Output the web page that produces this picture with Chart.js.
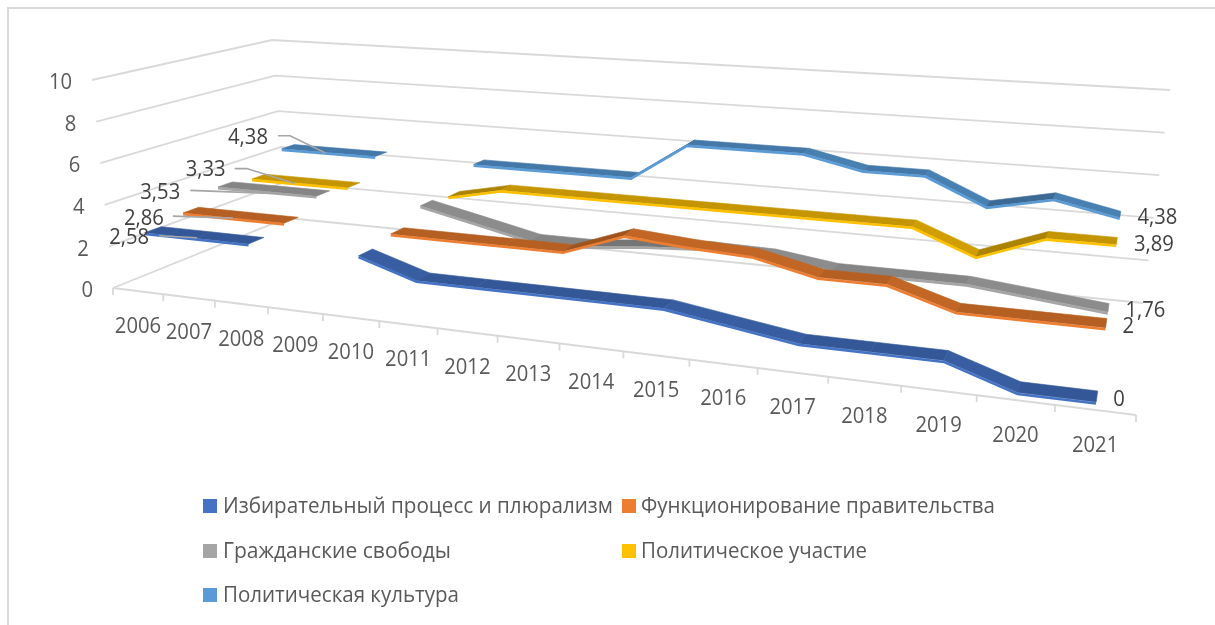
<!DOCTYPE html>
<html lang="ru"><head><meta charset="utf-8">
<script src="https://cdn.jsdelivr.net/npm/chart.js@4"></script>
<style>html,body{margin:0;padding:0;background:#fff}canvas{display:block}</style>
</head><body><canvas id="c" width="1215" height="625"></canvas>
<script>
const categories=['2006','2007','2008','2009','2010','2011','2012','2013','2014','2015','2016','2017','2018','2019','2020','2021'];
const electoral=[2.58,2.58,2.58,null,2.58,1.75,1.75,1.75,1.75,1.75,1.33,0.92,0.92,0.92,0,0];
const government=[2.86,2.86,2.86,null,2.86,2.86,2.86,2.86,3.86,3.64,3.5,2.86,2.86,2,2,2];
const civil=[3.53,3.53,3.53,null,3.53,2.94,2.35,2.35,2.62,2.79,2.73,2.35,2.35,2.35,2.06,1.76];
const participation=[3.33,3.33,3.33,null,3.33,3.89,3.89,3.89,3.89,3.89,3.89,3.89,3.89,2.78,3.89,3.89];
const culture=[4.38,4.38,4.38,null,4.38,4.38,4.38,4.38,6.25,6.25,6.25,5.63,5.63,4.38,5,4.38];
const seriesNames=['Избирательный процесс и плюрализм','Функционирование правительства','Гражданские свободы','Политическое участие','Политическая культура'];
const faceColors=['#4472C4','#ED7D31','#A5A5A5','#FFC000','#5B9BD5'];
const topColors=['#345897','#B55F22','#858585','#C49500','#4478A8'];

// perspective box: floor and ceiling corners of the 3-D plot
const floorQ=[[113,288],[1136,415],[1143,303],[287,218]];
const ceilQ=[[92,80],[1170,155],[1170,90],[272,40]];
function homog(p0,p1,p2,p3){
  const dx1=p1[0]-p2[0],dx2=p3[0]-p2[0],sx=p0[0]-p1[0]+p2[0]-p3[0];
  const dy1=p1[1]-p2[1],dy2=p3[1]-p2[1],sy=p0[1]-p1[1]+p2[1]-p3[1];
  const det=dx1*dy2-dx2*dy1,g=(sx*dy2-dx2*sy)/det,h=(dx1*sy-sx*dy1)/det;
  return (u,v)=>{const w=1+g*u+h*v;return [
    (p0[0]+u*(p1[0]-p0[0]+g*p1[0])+v*(p3[0]-p0[0]+h*p3[0]))/w,
    (p0[1]+u*(p1[1]-p0[1]+g*p1[1])+v*(p3[1]-p0[1]+h*p3[1]))/w];};
}
const Hf=homog(...floorQ),Hc=homog(...ceilQ);
const proj=(u,d,t)=>{const a=Hf(u,d),b=Hc(u,d);return [a[0]+(b[0]-a[0])*t,a[1]+(b[1]-a[1])*t];};
const RIBBON=0.042,FACE=0.006;
const depth=i=>(i+.5)/5;

function hexMix(a,b,t){const p=s=>[1,3,5].map(k=>parseInt(s.substr(k,2),16));const A=p(a),B=p(b);
  return 'rgb('+A.map((v,i)=>Math.round(v+(B[i]-v)*t)).join(',')+')';}

const LABEL_FONT='21.5px "Open Sans"';
const LEGEND_FONT='22px "Open Sans"';
// text is slightly condensed, like the reference's narrower face
function squeezed(c,txt,x,y,k){c.fillText(txt,x,y,c.measureText(txt).width*k);}
const SQ=0.94;
// label offsets relative to each series' first / last projected point
const firstLabelOffset=[[-24,8.5],[-47,8.5],[-65,8.5],[-53,-7],[-40,-8.5]];
const firstLeader=[[[6,6],[44,8]],[[-18,6],[42,8]],[[-35,6],[45,9]],[[-24,-8],[-12,-8],[36,7]],[[-10,-11],[2,-11],[37,6]]];
const lastLabelOffset=[[22,3],[22,4],[37,3.5],[37,4],[37,3.5]];

const persp={id:'persp',
  afterDatasetsUpdate(chart){
    const xs=chart.scales.x,ys=chart.scales.y;
    chart.data.datasets.forEach((ds,i)=>{
      chart.getDatasetMeta(i).data.forEach(el=>{
        const u=(el.x-xs.left)/xs.width;
        if(el.skip||!isFinite(el.y)){el.$q=null;return;}
        const t=(ys.bottom-el.y)/ys.height;
        el.$q={u,t,d:depth(i)};
        const p=proj(u,depth(i)-RIBBON,t-FACE);
        el.x=p[0];el.y=p[1];
      });
    });
  },
  beforeDatasetsDraw(chart){
    const c=chart.ctx,ys=chart.scales.y,xs=chart.scales.x;
    c.save();
    // outer frame
    c.strokeStyle='#D9D9D9';c.lineWidth=2;c.beginPath();c.moveTo(8,625);c.lineTo(8,8);c.lineTo(1215,8);c.stroke();
    // walls
    c.strokeStyle='#D9D9D9';c.lineWidth=1.8;c.lineJoin='miter';
    ys.ticks.forEach(tk=>{
      const t=tk.value/ys.max,a=proj(0,0,t),b=proj(0,1,t),d=proj(1,1,t);
      c.beginPath();c.moveTo(a[0],a[1]);c.lineTo(b[0],b[1]);c.lineTo(d[0],d[1]);c.stroke();
      c.fillStyle='#595959';c.font=LABEL_FONT;c.textAlign='right';c.textBaseline='middle';
      squeezed(c,String(tk.value),a[0]-20,a[1]+3,SQ);
    });
    // category axis
    const n=categories.length;
    const e0=proj(0,0,0),e1=proj(1,0,0);
    c.beginPath();c.moveTo(e0[0],e0[1]);c.lineTo(e1[0],e1[1]);c.stroke();
    for(let i=0;i<=n;i++){const p=proj(i/n,0,0);c.beginPath();c.moveTo(p[0],p[1]);c.lineTo(p[0],p[1]+7);c.stroke();}
    c.fillStyle='#595959';c.font=LABEL_FONT;c.textAlign='center';c.textBaseline='middle';
    xs.getLabels().forEach((lb,i)=>{const p=proj((i+.5)/n,0,0);squeezed(c,lb,p[0],p[1]+35.5,SQ);});
    c.restore();
  },
  beforeDatasetDraw(chart,args){
    const i=args.index,c=chart.ctx,els=chart.getDatasetMeta(i).data;
    c.save();
    for(let k=0;k<els.length-1;k++){
      const a=els[k].$q,b=els[k+1].$q;if(!a||!b)continue;
      const p1=proj(a.u,a.d-RIBBON,a.t),p2=proj(b.u,b.d-RIBBON,b.t),p3=proj(b.u,b.d+RIBBON,b.t),p4=proj(a.u,a.d+RIBBON,a.t);
      const dv=b.t-a.t;
      let col=topColors[i];
      if(dv<-0.001)col=hexMix(topColors[i],faceColors[i],.22);
      else if(dv>0.001)col=hexMix(topColors[i],'#000000',.12);
      c.fillStyle=col;c.strokeStyle=col;c.lineWidth=.6;
      c.beginPath();c.moveTo(p1[0],p1[1]);c.lineTo(p2[0],p2[1]);c.lineTo(p3[0],p3[1]);c.lineTo(p4[0],p4[1]);c.closePath();c.fill();c.stroke();
    }
    c.restore();
  },
  afterDatasetsDraw(chart){
    const c=chart.ctx;c.save();
    const fmt=v=>String(v).replace('.',',');
    chart.data.datasets.forEach((ds,i)=>{
      const els=chart.getDatasetMeta(i).data;
      const q0=els[0].$q,q1=els[els.length-1].$q;
      const p0=proj(q0.u,q0.d,q0.t),p1=proj(q1.u,q1.d,q1.t);
      // leader
      c.strokeStyle='#A6A6A6';c.lineWidth=1.6;c.beginPath();
      firstLeader[i].forEach((o,k)=>{const x=p0[0]+o[0],y=p0[1]+o[1];k?c.lineTo(x,y):c.moveTo(x,y);});c.stroke();
      c.fillStyle='#404040';c.font=LABEL_FONT;c.textAlign='center';c.textBaseline='middle';
      const o=firstLabelOffset[i],e=lastLabelOffset[i];
      squeezed(c,fmt(ds.data[0]),p0[0]+o[0],p0[1]+o[1],SQ);
      squeezed(c,fmt(ds.data[ds.data.length-1]),p1[0]+e[0],p1[1]+e[1],SQ);
    });
    // legend
    const cols=[203,622],rows=[506,551,595],widths=[390,354,228,226,236];
    c.textAlign='left';c.textBaseline='middle';c.font=LEGEND_FONT;
    chart.data.datasets.forEach((ds,i)=>{
      const x=cols[i%2],y=rows[Math.floor(i/2)];
      c.fillStyle=faceColors[i];c.fillRect(x,y-7,14,14);
      c.fillStyle='#595959';c.fillText(ds.label,x+(i%2?19:20),y+1,widths[i]);
    });
    c.restore();
  }
};
const values=[electoral,government,civil,participation,culture];
new Chart(document.getElementById('c'),{
  type:'line',
  data:{labels:categories,datasets:values.map((v,i)=>({label:seriesNames[i],data:v,borderColor:faceColors[i],backgroundColor:faceColors[i],borderWidth:2.6,pointRadius:0,pointHoverRadius:0,tension:0,spanGaps:false,clip:false,fill:false,borderJoinStyle:'miter'}))},
  options:{responsive:false,animation:false,events:[],layout:{padding:0},
    scales:{x:{type:'category',offset:true,display:false},y:{display:false,min:0,max:10,ticks:{stepSize:2}}},
    plugins:{legend:{display:false},tooltip:{enabled:false}}},
  plugins:[persp]
});
</script></body></html>
